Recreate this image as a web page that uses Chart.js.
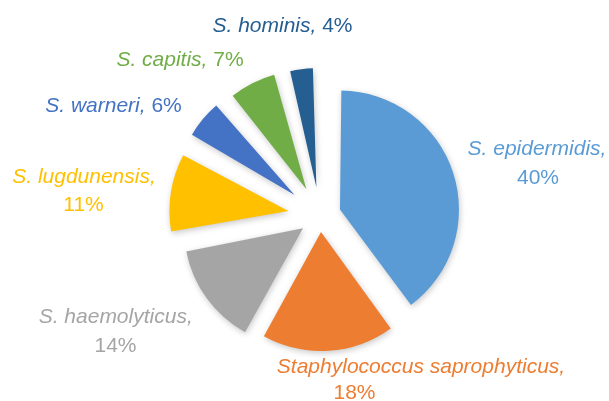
<!DOCTYPE html>
<html><head><meta charset="utf-8">
<script src="https://cdn.jsdelivr.net/npm/chart.js@4"></script>
<style>html,body{margin:0;padding:0;background:#fff;}canvas{display:block;}</style>
</head><body>
<canvas id="c" width="609" height="401"></canvas>
<script>
// ---- data ----
const categories = ['S. epidermidis', 'Staphylococcus saprophyticus', 'S. haemolyticus', 'S. lugdunensis', 'S. warneri', 'S. capitis', 'S. hominis'];
const values = [40, 18, 14, 11, 6, 7, 4];

// ---- styles ----
const colors = ['#5B9BD5', '#ED7D31', '#A5A5A5', '#FFC000', '#4472C4', '#70AD47', '#255E91'];
const explode = [21, 16, 21, 32, 33, 30, 29]; // slice explosion in px
const RADIUS = 119;
// label text placement relative to the pie centre (line 1 / line 2)
const labelLayout = [
  {two: true, dx: 217, dy: -61, dx2: 218, dy2: -32},
  {two: true, dx: 101, dy: 157, dx2: 34.5, dy2: 183},
  {two: true, dx: -204.3, dy: 107, dx2: -204.5, dy2: 136},
  {two: true, dx: -236, dy: -33, dx2: -236.5, dy2: -5},
  {two: false, dx: -206.5, dy: -104.3},
  {two: false, dx: -140, dy: -150},
  {two: false, dx: -37.5, dy: -184}
];
const FONT_I = 'italic 21px "Liberation Sans", Arial, sans-serif';
const FONT_N = '21px "Liberation Sans", Arial, sans-serif';

const explodePlugin = {
  id: 'explodeAndLabels',
  beforeDatasetsDraw(chart) {
    const meta = chart.getDatasetMeta(0);
    meta.data.forEach((arc, i) => {
      const off = explode[i];
      const fix = 1 - Math.sin(Math.min(Math.PI, arc.circumference || 0));
      arc.outerRadius = RADIUS - off * fix;
    });
    const ctx = chart.ctx;
    ctx.save();
    ctx.shadowColor = 'rgba(0,0,0,0.22)';
    ctx.shadowBlur = 6;
    ctx.shadowOffsetX = 1;
    ctx.shadowOffsetY = 2;
  },
  afterDatasetsDraw(chart) {
    const ctx = chart.ctx;
    ctx.restore();
    const meta = chart.getDatasetMeta(0);
    const cx = meta.data[0].x, cy = meta.data[0].y;
    const total = values.reduce((a, b) => a + b, 0);
    ctx.save();
    ctx.textBaseline = 'alphabetic';
    labelLayout.forEach((L, i) => {
      const pct = Math.round(values[i] / total * 100) + '%';
      const name = categories[i] + ',';
      ctx.fillStyle = colors[i];
      if (L.two) {
        ctx.textAlign = 'center';
        ctx.font = FONT_I; ctx.fillText(name, cx + L.dx, cy + L.dy);
        ctx.font = FONT_N; ctx.fillText(pct, cx + L.dx2, cy + L.dy2);
      } else {
        ctx.font = FONT_I; const w1 = ctx.measureText(name).width;
        ctx.font = FONT_N; const w2 = ctx.measureText(' ' + pct).width;
        const x0 = cx + L.dx - (w1 + w2) / 2;
        ctx.textAlign = 'left';
        ctx.font = FONT_I; ctx.fillText(name, x0, cy + L.dy);
        ctx.font = FONT_N; ctx.fillText(' ' + pct, x0 + w1, cy + L.dy);
      }
    });
    ctx.restore();
  }
};

new Chart(document.getElementById('c'), {
  type: 'pie',
  data: {
    labels: categories,
    datasets: [{
      data: values,
      backgroundColor: colors,
      borderWidth: 0,
      offset: explode.map(d => d * 4),
      radius: RADIUS
    }]
  },
  options: {
    responsive: false,
    animation: false,
    events: [],
    layout: {padding: {left: 31, right: 0, top: 31, bottom: 0}},
    plugins: {legend: {display: false}, tooltip: {enabled: false}, title: {display: false}}
  },
  plugins: [explodePlugin]
});
</script>
</body></html>
